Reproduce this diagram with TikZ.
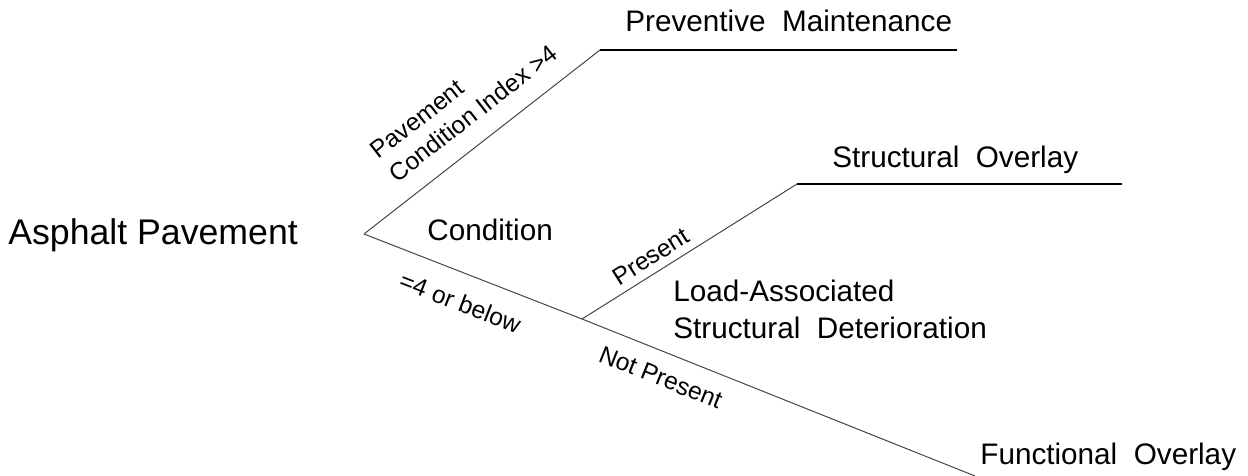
\documentclass[tikz,border=0pt]{standalone}
\usepackage{fontspec}
\setmainfont{Liberation Sans}
\usepackage{tikz}
\usetikzlibrary{positioning}

\tikzset{
	title/.style={inner sep=0pt, font=\fontsize{20.3}{23}\selectfont},
	big/.style={inner sep=0pt, font=\fontsize{16.9}{21}\selectfont},
	small/.style={inner sep=0pt, sloped, text=black, font=\fontsize{14}{17}\selectfont},
	branch/.style={line width=0.55pt, black!75},
	shelf/.style={line width=0.7pt, black},
}

\begin{document}
\begin{tikzpicture}[x=0.02cm, y=-0.02cm]
	\useasboundingbox (0,0) rectangle (1248,476);
	
	% Root
	\node [title, anchor=base west] (root) at (8,245) {Asphalt Pavement};
	\coordinate (fork) at (364,234);
	
	\node [big, anchor=base west] (cond) at (427,241) {Condition};
	
	% Preventive branch
	\coordinate (pmcorner) at (600,50);
	\coordinate (pmend) at (957,50);
	\node [big, anchor=base west] (pm) at (625,32) {Preventive~~Maintenance};
	
	% Deterioration split
	\coordinate (split) at (582,319);
	\node [big, anchor=north west, align=left] (lasd) at (673,280)
	{Load-Associated\\Structural~~Deterioration};
	
	% Structural branch
	\coordinate (socorner) at (797,184);
	\coordinate (soend) at (1122,184);
	\node [big, anchor=base west] (so) at (832,168) {Structural~~Overlay};
	
	% Functional branch
	\coordinate (foend) at (975,476);
	\node [big, anchor=base west] (fo) at (980,464) {Functional~~Overlay};
	
	\draw [branch] (fork) -- node [small, align=left, anchor=south west,
	outer ysep=11pt, pos=0.19] (pci) {Pavement\\Condition Index >4} (pmcorner);
	\draw [shelf] (pmcorner) -- (pmend);
	
	\draw [branch] (fork) -- node [small, anchor=north, outer ysep=11.3pt,
	pos=0.49] (low) {=4 or below} (split);
	
	\draw [branch] (split) -- node [small, anchor=south, outer ysep=4.5pt,
	pos=0.36] (yes) {Present} (socorner);
	\draw [shelf] (socorner) -- (soend);
	
	\draw [branch] (split) -- node [small, anchor=north, outer ysep=9.4pt,
	pos=0.224] (no) {Not Present} (foend);
	
\end{tikzpicture}
\end{document}
